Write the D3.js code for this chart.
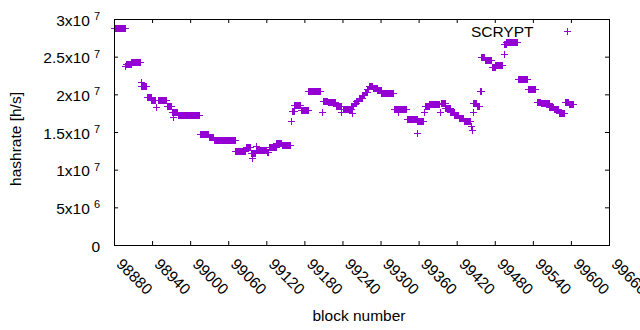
<!DOCTYPE html>
<html>
<head>
<meta charset="utf-8">
<script src="https://cdn.jsdelivr.net/npm/d3@7"></script>
<style>
  body { margin: 0; background: #fff; }
  text { font-family: "Liberation Sans", Arial, sans-serif; }
</style>
</head>
<body>
<script>
const SVG_WIDTH = 640;
const SVG_HEIGHT = 330;
const FONT = 15.5;
const COLOR = "#9400d3";

// runs of blocks with the same hashrate (h/s)
const runStart = [98880, 98899, 98907, 98923, 98932, 98939, 98949, 98963, 98971, 98981,
  99016, 99029, 99037, 99071, 99088, 99096, 99104, 99121, 99124, 99136,
  99144, 99160, 99164, 99174, 99186, 99209, 99217, 99230, 99241, 99254,
  99258, 99262, 99266, 99271, 99275, 99279, 99282, 99288, 99295, 99301,
  99321, 99341, 99358, 99370, 99377, 99396, 99402, 99410, 99416, 99423,
  99431, 99446, 99452, 99456, 99459, 99464, 99475, 99481, 99495, 99498,
  99517, 99532, 99547, 99553, 99566, 99573, 99581, 99590, 99597];
const runEnd = [98898, 98906, 98921, 98931, 98938, 98944, 98962, 98970, 98980, 99014,
  99028, 99036, 99070, 99087, 99095, 99102, 99120, 99123, 99135, 99143,
  99157, 99163, 99173, 99185, 99205, 99216, 99229, 99237, 99253, 99257,
  99261, 99265, 99270, 99274, 99278, 99281, 99287, 99294, 99300, 99320,
  99340, 99357, 99367, 99376, 99392, 99401, 99409, 99415, 99422, 99430,
  99441, 99451, 99455, 99458, 99463, 99474, 99480, 99491, 99497, 99515,
  99531, 99544, 99552, 99565, 99572, 99580, 99589, 99596, 99604];
const runRate = [28.8e6, 24.0e6, 24.3e6, 21.1e6, 19.6e6, 19.2e6, 19.3e6, 18.4e6, 17.6e6, 17.3e6,
  14.8e6, 14.3e6, 13.9e6, 12.45e6, 13.0e6, 12.2e6, 12.6e6, 12.4e6, 13.0e6, 13.5e6,
  13.3e6, 17.85e6, 18.65e6, 17.95e6, 20.45e6, 19.15e6, 19.0e6, 18.5e6, 18.0e6, 18.4e6,
  18.8e6, 19.1e6, 19.5e6, 19.9e6, 20.3e6, 20.7e6, 21.1e6, 20.9e6, 20.6e6, 20.2e6,
  18.0e6, 16.7e6, 16.5e6, 18.5e6, 18.7e6, 18.9e6, 18.2e6, 17.7e6, 17.3e6, 16.8e6,
  16.5e6, 18.9e6, 18.5e6, 20.5e6, 24.9e6, 24.6e6, 23.6e6, 23.9e6, 26.7e6, 27.0e6,
  22.05e6, 20.65e6, 19.0e6, 18.9e6, 18.3e6, 18.1e6, 17.5e6, 19.0e6, 18.7e6];

// single off-level blocks
const dotBlock = [98898, 98922, 98946, 98973, 99098, 99103, 99159, 99207, 99238, 99255,
  99327, 99357, 99368, 99393, 99443, 99444, 99445, 99494];
const dotRate = [23.7e6, 21.7e6, 18.3e6, 17.0e6, 11.6e6, 13.1e6, 16.45e6, 17.6e6, 17.7e6, 17.55e6,
  17.6e6, 14.9e6, 17.6e6, 17.65e6, 15.75e6, 15.3e6, 17.6e6, 25.4e6];

const xTicks = [98880, 98940, 99000, 99060, 99120, 99180, 99240, 99300, 99360, 99420, 99480, 99540, 99600, 99660];
const yTicks = [0, 5e6, 1e7, 1.5e7, 2e7, 2.5e7, 3e7];
const yTickMant = ["0", "5x10", "1x10", "1.5x10", "2x10", "2.5x10", "3x10"];
const yTickExp = ["", "6", "7", "7", "7", "7", "7"];

const points = [];
runStart.forEach((s, i) => {
    d3.range(s, runEnd[i] + 1).forEach(b => points.push({ block: b, rate: runRate[i] }));
});
dotBlock.forEach((b, i) => points.push({ block: b, rate: dotRate[i] }));

const svg = d3
    .select("body")
    .append("svg")
    .attr("width", SVG_WIDTH)
    .attr("height", SVG_HEIGHT);

const x = d3.scaleLinear().domain([98880, 99660]).range([114, 609]);
const y = d3.scaleLinear().domain([0, 3e7]).range([245, 19]);

const plus = (cx, cy, r) => `M${cx - r},${cy}H${cx + r}M${cx},${cy - r}V${cy + r}`;

// data
svg.append("g")
    .selectAll("path")
    .data(points)
    .join("path")
    .attr("d", d => plus(Math.round(x(d.block)) + 0.5, Math.round(y(d.rate)) + 0.5, 3.5))
    .attr("stroke", COLOR)
    .attr("stroke-width", 1)
    .attr("fill", "none");

// axes (ticks inward, mirrored)
const styleAxis = g => {
    g.attr("font-family", null).attr("font-size", FONT);
    g.select(".domain").remove();
    g.selectAll(".tick line").attr("stroke", "#000");
};

svg.append("g")
    .attr("transform", "translate(0,245)")
    .call(d3.axisBottom(x).tickValues(xTicks).tickSizeInner(-4).tickSizeOuter(0).tickFormat(d3.format("d")))
    .call(styleAxis)
    .call(g => g.selectAll(".tick text")
        .attr("y", null)
        .attr("dy", null)
        .attr("text-anchor", "start")
        .attr("fill", "#000")
        .attr("transform", "translate(1,20) rotate(45)"));

svg.append("g")
    .attr("transform", "translate(0,19)")
    .call(d3.axisTop(x).tickValues(xTicks.slice(0, -1)).tickSizeInner(-4).tickSizeOuter(0).tickFormat(""))
    .call(styleAxis);

svg.append("g")
    .attr("transform", "translate(114,0)")
    .call(d3.axisLeft(y).tickValues(yTicks).tickSizeInner(-4).tickSizeOuter(0).tickFormat((d, i) => yTickMant[i]))
    .call(styleAxis)
    .call(g => g.selectAll(".tick text")
        .attr("x", -14)
        .attr("dy", "0.39em")
        .attr("fill", "#000")
        .each(function (d, i) {
            if (yTickExp[i]) {
                d3.select(this).append("tspan")
                    .attr("dx", 4)
                    .attr("dy", -5.5)
                    .attr("font-size", 11)
                    .text(yTickExp[i]);
            }
        }));

svg.append("g")
    .attr("transform", "translate(609,0)")
    .call(d3.axisRight(y).tickValues(yTicks.slice(1, -1)).tickSizeInner(-4).tickSizeOuter(0).tickFormat(""))
    .call(styleAxis);

// frame
svg.append("rect")
    .attr("x", 114.5)
    .attr("y", 19.5)
    .attr("width", 495)
    .attr("height", 226)
    .attr("fill", "none")
    .attr("stroke", "#000")
    .attr("stroke-width", 1);

// legend
svg.append("text")
    .attr("x", 533.5)
    .attr("y", 36.5)
    .attr("text-anchor", "end")
    .attr("font-size", FONT)
    .text("SCRYPT");

svg.append("path")
    .attr("d", plus(567.5, 31.5, 3.5))
    .attr("stroke", COLOR)
    .attr("fill", "none");

// axis titles
svg.append("text")
    .attr("x", 359)
    .attr("y", 321)
    .attr("text-anchor", "middle")
    .attr("font-size", FONT)
    .text("block number");

svg.append("text")
    .attr("transform", "translate(21,139) rotate(-90)")
    .attr("text-anchor", "middle")
    .attr("font-size", FONT)
    .text("hashrate [h/s]");
</script>
</body>
</html>
